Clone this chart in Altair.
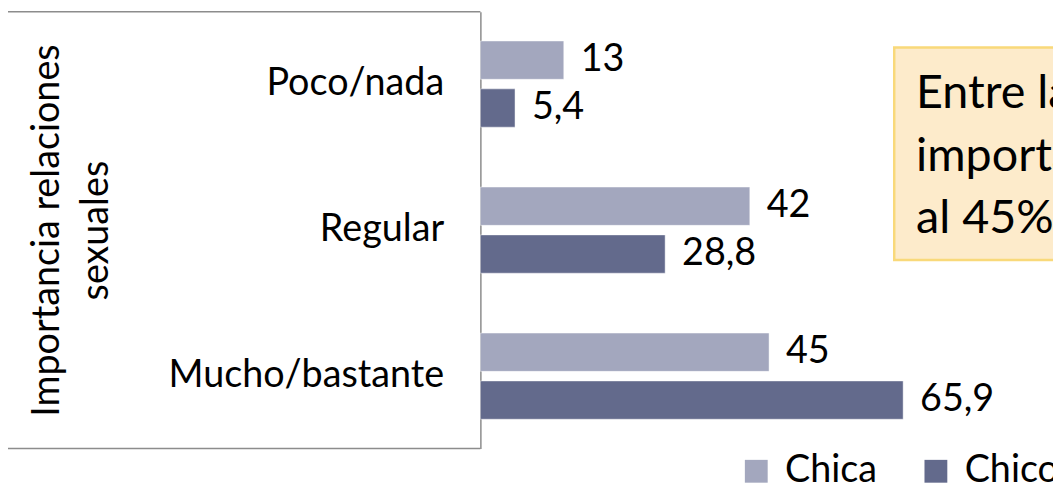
import altair as alt
import pandas as pd

categories = ["Poco/nada", "Regular", "Mucho/bastante"]
series = ["Chica", "Chico"]
chica = [13, 42, 45]
chico = [5.4, 28.8, 65.9]
chica_labels = ["13", "42", "45"]
chico_labels = ["5,4", "28,8", "65,9"]
colors = ["#A3A7BE", "#636A8C"]
note_lines = ["Entre las chicas la", "importancia llega", "al 45%"]
axis_title = ["Importancia relaciones", "sexuales"]

FONT = "Lato"

rows = []
for i, c in enumerate(categories):
    rows.append({"cat": c, "serie": series[0], "valor": chica[i], "etiqueta": chica_labels[i]})
    rows.append({"cat": c, "serie": series[1], "valor": chico[i], "etiqueta": chico_labels[i]})
df = pd.DataFrame(rows)
dummy = pd.DataFrame({"d": [0]})

x_enc = alt.X("valor:Q", scale=alt.Scale(domain=[0, 89.26], nice=False, zero=True), axis=None)
y_enc = alt.Y(
    "cat:N",
    sort=categories,
    scale=alt.Scale(paddingInner=0.41, paddingOuter=0.2),
    axis=alt.Axis(
        title=axis_title,
        domain=True, domainColor="#8c8c8c", domainWidth=1.5,
        ticks=False, grid=False,
        labelFont=FONT, labelFontSize=38, labelColor="black",
        labelPadding=37, labelLimit=500, labelAlign="right",
        titleFont=FONT, titleFontSize=38, titleFontWeight="normal", titleColor="black",
        titleX=-436, titleY=220, titleAngle=270, titleAlign="center",
        titleBaseline="middle", titleLineHeight=49, titleLimit=600,
    ),
)
yoff = alt.YOffset("serie:N", sort=series, scale=alt.Scale(paddingInner=0.2, paddingOuter=0))

bars = alt.Chart(df).mark_bar(stroke="white", strokeOpacity=0.45, strokeWidth=1).encode(
    x=x_enc, y=y_enc, yOffset=yoff,
    color=alt.Color(
        "serie:N", sort=series,
        scale=alt.Scale(domain=series, range=colors),
        legend=alt.Legend(
            title=None, orient="none", legendX=259, legendY=444,
            direction="horizontal", symbolType="square", symbolSize=529,
            symbolStrokeWidth=0, symbolOpacity=1,
            labelFont=FONT, labelFontSize=38, labelColor="black",
            columnPadding=40, labelOffset=10, padding=0,
        ),
    ),
)

labels = alt.Chart(df).mark_text(
    align="left", baseline="middle", dx=17, font=FONT, fontSize=38, color="black"
).encode(x=x_enc, y=y_enc, yOffset=yoff, text="etiqueta:N")

note_box = alt.Chart(dummy).mark_rect(
    fill="#FDEBCB", stroke="#F9D97A", strokeWidth=2.5, clip=True
).encode(x=alt.value(417), x2=alt.value(720), y=alt.value(36), y2=alt.value(250))

note_text = alt.Chart(dummy).mark_text(
    text=note_lines, align="left", baseline="alphabetic", lineHeight=63,
    font=FONT, fontSize=47, color="black", clip=True
).encode(x=alt.value(439), y=alt.value(97))

top_line = alt.Chart(dummy).mark_rule(color="#8c8c8c", strokeWidth=1.5).encode(
    x=alt.value(-476), x2=alt.value(0), y=alt.value(0))
bottom_line = alt.Chart(dummy).mark_rule(color="#8c8c8c", strokeWidth=1.5).encode(
    x=alt.value(-476), x2=alt.value(0), y=alt.value(440))

chart = alt.layer(bars, labels, note_box, note_text, top_line, bottom_line).properties(
    width=577, height=440,
    autosize=alt.AutoSizeParams(type="none"),
    padding={"left": 476, "top": 2, "right": 0, "bottom": 33},
    background="white",
).configure_view(stroke=None)

chart.save("out.html", embed_options={"renderer": "svg", "actions": False})
